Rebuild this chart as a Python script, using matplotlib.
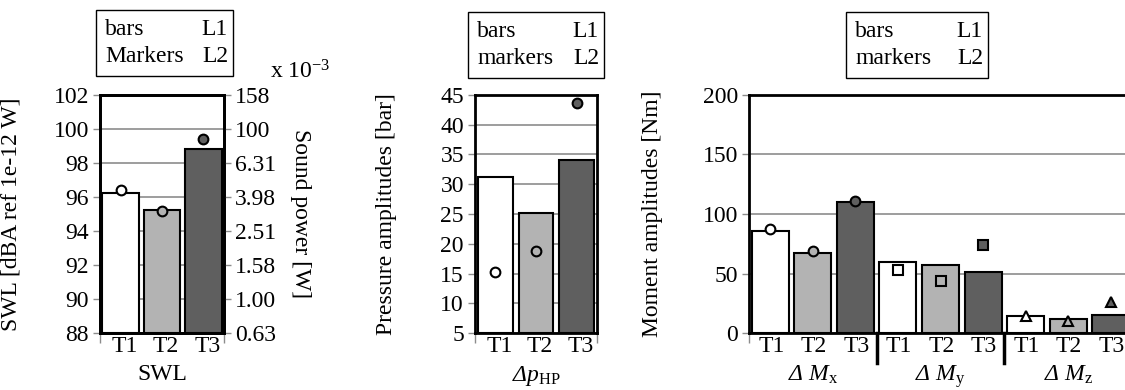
import matplotlib
matplotlib.use("Agg")
import matplotlib.pyplot as plt
import matplotlib.transforms as mtransforms
from matplotlib.patches import Rectangle

plt.rcParams['font.family'] = ['Liberation Serif', 'DejaVu Serif']
plt.rcParams['mathtext.fontset'] = 'custom'
plt.rcParams['mathtext.rm'] = 'Liberation Serif'
plt.rcParams['mathtext.it'] = 'Liberation Serif:italic'
plt.rcParams['mathtext.cal'] = 'Liberation Serif:italic'
plt.rcParams['font.size'] = 17

# data
tests = ['T1', 'T2', 'T3']
colors = ['white', '#b3b3b3', '#5f5f5f']

swl_bars = [96.25, 95.25, 98.8]
swl_markers = [96.4, 95.2, 99.4]
swl_ticks = [88, 90, 92, 94, 96, 98, 100, 102]
power_labels = ['0.63', '1.00', '1.58', '2.51', '3.98', '6.31', '100', '158']

p_bars = [31.3, 25.2, 34.1]
p_markers = [15.2, 18.7, 43.6]

moment_groups = ['$\\mathcal{Δ}\\ M_{\\mathrm{x}}$', '$\\mathcal{Δ}\\ M_{\\mathrm{y}}$',
                 '$\\mathcal{Δ}\\ M_{\\mathrm{z}}$']
m_bars = [86, 67, 110, 59.5, 57, 51, 14, 12, 15]
m_markers = [87.5, 68.5, 111, 53, 44, 74, 14, 10, 26]
m_shapes = ['o', 's', '^']

W, H = 1125, 390
fig = plt.figure(figsize=(W / 100, H / 100), dpi=100)


def px_axes(x0, x1, y0, y1):
    return fig.add_axes([x0 / W, 1 - y1 / H, (x1 - x0) / W, (y1 - y0) / H])


def style(ax, n, dx):
    for s in ax.spines.values():
        s.set_linewidth(2)
    ax.grid(axis='y', color='#8c8c8c', lw=1.2, zorder=0)
    ax.set_axisbelow(True)
    ax.set_xlim(-0.5, n - 0.5)
    ax.tick_params(axis='y', direction='out', length=5, color='#8c8c8c', width=1, pad=3)
    ax.tick_params(axis='x', which='major', length=0, pad=2)
    ax.set_xticks(range(n))
    ax.set_xticklabels((tests * 3)[:n])
    shift = mtransforms.ScaledTranslation(dx / 100, 0, fig.dpi_scale_trans)
    for lab in ax.get_xticklabels():
        lab.set_transform(lab.get_transform() + shift)
    ax.set_xticks([-0.5, n - 0.5], minor=True)
    ax.tick_params(axis='x', which='minor', length=7, color='#8c8c8c', width=1)


def legend_box(x0, x1, y0, y1, second):
    fig.patches.append(Rectangle((x0 / W, 1 - y1 / H), (x1 - x0) / W, (y1 - y0) / H,
                                 transform=fig.transFigure, fill=False, lw=1, ec='black'))
    ym1 = 1 - (y0 + (y1 - y0) * 0.3) / H
    ym2 = 1 - (y0 + (y1 - y0) * 0.7) / H
    fig.text((x0 + 9) / W, ym1, 'bars', va='center', ha='left')
    fig.text((x0 + 9) / W, ym2, second, va='center', ha='left')
    fig.text((x1 - 5) / W, ym1, 'L1', va='center', ha='right')
    fig.text((x1 - 5) / W, ym2, 'L2', va='center', ha='right')


# panel 1: SWL
ax1 = px_axes(100, 224, 95, 333)
style(ax1, 3, 4)
ax1.bar(range(3), [b - 88 for b in swl_bars], bottom=88, width=0.88, color=colors,
        edgecolor='black', lw=1.5, zorder=2)
ax1.set_ylim(88, 102)
ax1.set_yticks(swl_ticks)
ax1.set_ylabel('SWL [dBA ref 1e-12 W]')
ax1.yaxis.set_label_coords(-0.63, 0.5)
ax1.set_xlabel('SWL')
ax1.xaxis.set_label_coords(0.5, -0.13)
ax1r = ax1.twinx()
ax1r.set_ylim(88, 102)
ax1r.set_yticks(swl_ticks)
ax1r.set_yticklabels(power_labels)
ax1r.tick_params(axis='y', direction='out', length=5, color='#8c8c8c', width=1, pad=3)
for s in ax1r.spines.values():
    s.set_linewidth(2)
for i in range(3):
    ax1r.plot(i, swl_markers[i], 'o', ms=7, mfc=colors[i], mec='black', mew=1.5, zorder=3)
ax1r.set_ylabel('Sound power [W]', rotation=270, va='center')
ax1r.yaxis.set_label_coords(1.62, 0.5)
fig.text(270 / W, 1 - 72 / H, 'x 10$^{-3}$', ha='left', va='center')
legend_box(96, 233, 10, 76, 'Markers')

# panel 2: pressure amplitudes
ax2 = px_axes(475, 597, 95, 333)
style(ax2, 3, 4)
ax2.bar(range(3), [b - 5 for b in p_bars], bottom=5, width=0.86, color=colors,
        edgecolor='black', lw=1.5, zorder=2)
for i in range(3):
    ax2.plot(i, p_markers[i], 'o', ms=7, mfc=colors[i], mec='black', mew=1.5, zorder=3)
ax2.set_ylim(5, 45)
ax2.set_yticks(range(5, 46, 5))
ax2.set_ylabel('Pressure amplitudes [bar]')
ax2.yaxis.set_label_coords(-0.64, 0.5)
ax2.set_xlabel('$\\mathcal{Δ}\\mathit{p}_{\\mathrm{HP}}$')
ax2.xaxis.set_label_coords(0.5, -0.13)
legend_box(468, 604, 12, 78, 'markers')

# panel 3: moment amplitudes
ax3 = px_axes(749, 1132, 95, 333)
style(ax3, 9, 1)
ax3.bar(range(9), m_bars, width=0.87, color=colors * 3, edgecolor='black', lw=1.5, zorder=2)
for i in range(9):
    ax3.plot(i, m_markers[i], m_shapes[i // 3], ms=7 if i < 3 else 7.5,
             mfc=colors[i % 3], mec='black', mew=1.5, zorder=3, clip_on=False)
ax3.set_ylim(0, 200)
ax3.set_yticks(range(0, 201, 50))
ax3.set_xticks([-0.5], minor=True)
ax3.set_ylabel('Moment amplitudes [Nm]')
ax3.yaxis.set_label_coords(-0.225, 0.5)
trans = mtransforms.blended_transform_factory(ax3.transData, ax3.transAxes)
for xs in [2.5, 5.5]:
    ax3.plot([xs, xs], [0, -0.125], color='black', lw=2.5, transform=trans, clip_on=False)
for g in range(3):
    ax3.text(3 * g + 1, -0.2, moment_groups[g], transform=trans, ha='center', va='baseline')
legend_box(846, 988, 12, 78, 'markers')

fig.savefig('out.png', dpi=100)
